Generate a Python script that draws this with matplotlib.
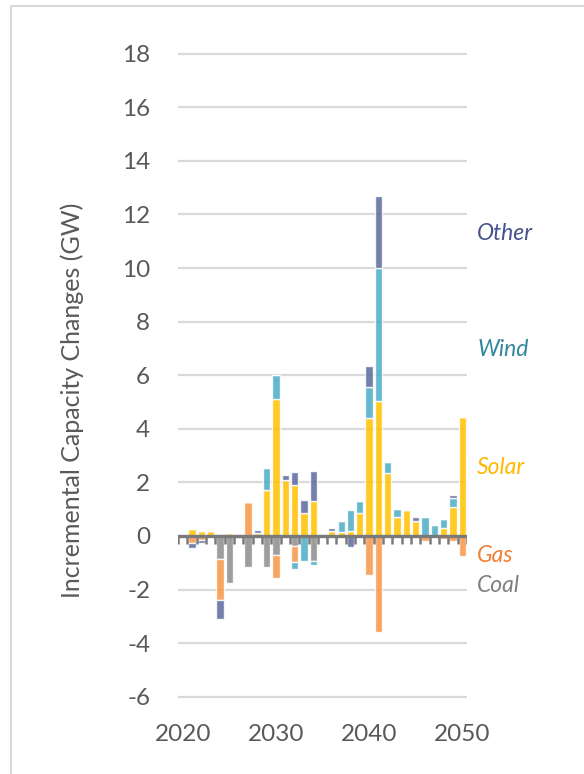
import matplotlib
matplotlib.use("Agg")
import matplotlib.pyplot as plt
import matplotlib.patches as mpatches
import numpy as np

years = np.arange(2020, 2051)

# incremental capacity changes (GW) per year, 2020..2050
coal = [0, 0, 0, 0, -0.85, -1.75, -0.08, -1.17, 0, -1.17, -0.72, 0, -0.38, 0, -0.92, 0,
        0, 0, 0, 0, 0, 0, 0, 0, 0, 0, 0, 0, 0, 0, 0]
gas = [0, -0.25, -0.15, 0, -1.55, 0, 0, 1.25, 0, 0, -0.85, 0, -0.6, 0, 0, 0,
       0, 0, 0, 0, -1.45, -3.6, 0, 0, 0, 0, -0.18, 0, -0.1, -0.2, -0.75]
solar = [0, 0.25, 0.2, 0.2, 0, 0.1, 0, 0, 0.12, 1.7, 5.1, 2.08, 1.9, 0.85, 1.32, 0,
         0.2, 0.15, 0.18, 0.85, 4.4, 5.05, 2.35, 0.7, 0.97, 0.55, 0, 0, 0.3, 1.07, 4.45]
wind = [0, 0, 0, 0, 0, 0, 0, 0, 0, 0.85, 0.9, 0, -0.27, -0.92, -0.15, 0,
        0, 0.42, 0.8, 0.45, 1.15, 4.95, 0.4, 0.3, 0, 0, 0.7, 0.4, 0.35, 0.35, 0]
other = [0, -0.2, -0.12, 0, -0.7, 0, 0, 0, 0.1, 0, 0, 0.2, 0.5, 0.5, 1.1, 0,
         0.1, 0, -0.4, 0, 0.8, 2.7, 0, 0, 0, 0.15, 0, 0, 0, 0.1, 0]

series = [("Coal", coal, "#8c8c8c"),
          ("Gas", gas, "#f79646"),
          ("Solar", solar, "#ffc000"),
          ("Wind", wind, "#4bacc6"),
          ("Other", other, "#5b6a9e")]

label_pos = {"Other": 11.3, "Wind": 6.95, "Solar": 2.55, "Gas": -0.72, "Coal": -1.85}
label_col = {"Other": "#44548c", "Wind": "#31879c", "Solar": "#ffb800",
             "Gas": "#f07f32", "Coal": "#7f7f7f"}

plt.rcParams['font.family'] = ['Lato', 'DejaVu Sans']
plt.rcParams['axes.unicode_minus'] = False

fig = plt.figure(figsize=(5.84, 7.74), dpi=100)
ax = fig.add_axes([0.3048, 0.0894, 0.4949, 0.8517])

pos_bottom = np.zeros(len(years))
neg_bottom = np.zeros(len(years))
for name, vals, col in series:
    v = np.array(vals, dtype=float)
    bottoms = np.where(v >= 0, pos_bottom, neg_bottom)
    ax.bar(years, v, bottom=bottoms, width=0.78, color=col, alpha=0.85,
           edgecolor="white", linewidth=1.0, zorder=2)
    pos_bottom += np.clip(v, 0, None)
    neg_bottom += np.clip(v, None, 0)
    ax.text(2050.5 + 1.1, label_pos[name], name, color=label_col[name],
            fontsize=16.5, style="italic", va="center", ha="left", clip_on=False)

# zero line with category boundary ticks
ax.axhline(0, color="#7a7a7a", lw=2.4, zorder=4)
edges = np.append(years - 0.5, years[-1] + 0.5)
ax.vlines(edges, -0.3, 0, color="#7a7a7a", lw=1.8, zorder=4)

ax.set_xlim(2019.5, 2050.5)
ax.set_ylim(-6.3, 18.3)
ax.set_yticks(np.arange(-6, 19, 2))
ax.set_xticks([2020, 2030, 2040, 2050])
ax.yaxis.grid(True, color="#d9d9d9", lw=1.6, zorder=0)
ax.set_axisbelow(True)
for s in ax.spines.values():
    s.set_visible(False)
ax.tick_params(axis="both", length=0, labelsize=17.5, colors="#595959")
ax.tick_params(axis="x", pad=14)
ax.tick_params(axis="y", pad=20)
ax.set_ylabel("Incremental Capacity Changes (GW)", fontsize=18, color="#595959")
ax.yaxis.set_label_coords(-0.325, 0.462)

# light frame around the chart area
fig.patches.append(mpatches.Rectangle((0.019, -0.1), 1.2, 1.092, transform=fig.transFigure,
                                      fill=False, edgecolor="#d9d9d9", lw=1.5))

fig.savefig("out.png", dpi=100)
